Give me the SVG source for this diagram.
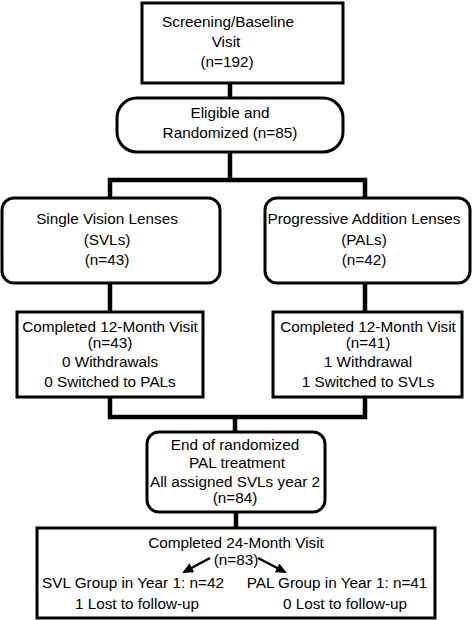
<svg xmlns="http://www.w3.org/2000/svg" width="472" height="620" viewBox="0 0 472 620">
<style>
.box{fill:#fff;stroke:#000;stroke-width:3}
.t{font-family:"Liberation Sans",Arial,sans-serif;font-size:15.3px;fill:#000;text-anchor:middle}
.c{fill:none;stroke:#000;stroke-width:4.5}
.a{fill:none;stroke:#000;stroke-width:2.5}
</style>
<defs>
<marker id="ah" markerWidth="11" markerHeight="10" refX="9" refY="5" orient="auto" markerUnits="userSpaceOnUse"><path d="M0,0 L11,5 L0,10 Z" fill="#000"/></marker>
</defs>
<g id="connectors">
<path class="c" d="M230,83 V98"/>
<path class="c" d="M230,152 V180 M110,198 V180 H365 V198"/>
<path class="c" d="M110,283 V312 M365,283 V312"/>
<path class="c" d="M110,397 V417 H365 V397 M235,417 V432"/>
<path class="c" d="M236,512 V528"/>
</g>
<g id="screening">
<rect class="box" x="142" y="3" width="201" height="80"/>
<text class="t" x="228" y="27">Screening/Baseline</text>
<text class="t" x="226" y="47">Visit</text>
<text class="t" x="227" y="67">(n=192)</text>
</g>
<g id="eligible">
<rect class="box" x="117" y="98" width="226" height="54" rx="20"/>
<text class="t" x="230" y="118">Eligible and</text>
<text class="t" x="230" y="138">Randomized (n=85)</text>
</g>
<g id="svl">
<rect class="box" x="2" y="198" width="218" height="85" rx="12"/>
<text class="t" x="107" y="224">Single Vision Lenses</text>
<text class="t" x="107" y="245">(SVLs)</text>
<text class="t" x="107" y="265">(n=43)</text>
</g>
<g id="pal">
<rect class="box" x="265" y="198" width="205" height="85" rx="12"/>
<text class="t" x="364" y="224">Progressive Addition Lenses</text>
<text class="t" x="364" y="245">(PALs)</text>
<text class="t" x="364" y="265">(n=42)</text>
</g>
<g id="svl12">
<rect class="box" x="17" y="312" width="186" height="85"/>
<text class="t" x="110" y="332">Completed 12-Month Visit</text>
<text class="t" x="110" y="348">(n=43)</text>
<text class="t" x="110" y="367">0 Withdrawals</text>
<text class="t" x="110" y="387">0 Switched to PALs</text>
</g>
<g id="pal12">
<rect class="box" x="273" y="312" width="189" height="85"/>
<text class="t" x="368" y="332">Completed 12-Month Visit</text>
<text class="t" x="368" y="348">(n=41)</text>
<text class="t" x="368" y="367">1 Withdrawal</text>
<text class="t" x="368" y="387">1 Switched to SVLs</text>
</g>
<g id="end">
<rect class="box" x="147" y="432" width="178" height="80" rx="12"/>
<text class="t" x="235" y="450">End of randomized</text>
<text class="t" x="237" y="468">PAL treatment</text>
<text class="t" x="235" y="487">All assigned SVLs year 2</text>
<text class="t" x="235" y="503">(n=84)</text>
</g>
<g id="month24">
<rect class="box" x="37" y="528" width="398" height="90"/>
<text class="t" x="236" y="548">Completed 24-Month Visit</text>
<text class="t" x="236" y="565">(n=83)</text>
<path class="a" d="M210,558 L184,572" marker-end="url(#ah)"/>
<path class="a" d="M258,558 L285,572" marker-end="url(#ah)"/>
<text class="t" x="133" y="588">SVL Group in Year 1: n=42</text>
<text class="t" x="337" y="588">PAL Group in Year 1: n=41</text>
<text class="t" x="137" y="609">1 Lost to follow-up</text>
<text class="t" x="345" y="609">0 Lost to follow-up</text>
</g>
</svg>
